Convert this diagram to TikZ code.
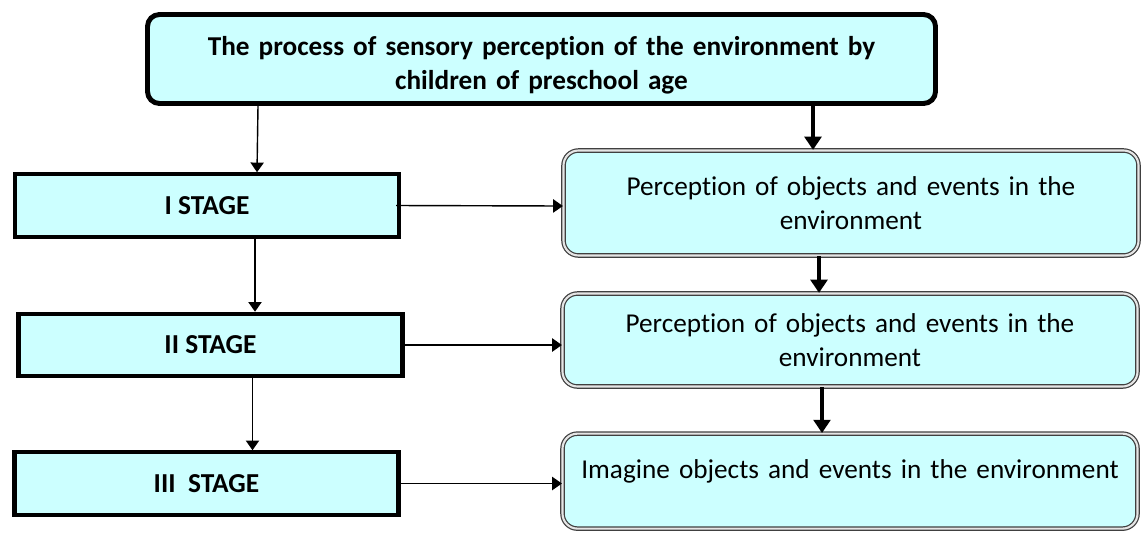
\documentclass[tikz,border=0pt]{standalone}
\usepackage{fontspec}
\setmainfont{Carlito}[Ligatures=NoCommon]
\usepackage{tikz}
\usetikzlibrary{arrows.meta}
\usepackage{xcolor}
\definecolor{boxcyan}{HTML}{CCFFFF}

\begin{document}
\begin{tikzpicture}[
  topbox/.style={draw=black, line width=2.8pt, rounded corners=0.24cm, fill=boxcyan,
    minimum width=15.76cm, minimum height=1.78cm, align=center, text width=15.3cm,
    font=\bfseries\fontsize{15.5}{19.3}\selectfont},
  stagebox/.style={draw=black, line width=2.3pt, fill=boxcyan, minimum width=7.68cm,
    minimum height=1.25cm, font=\bfseries\fontsize{15.6}{18}\selectfont},
  percbox/.style={draw=black!75, line width=0.7pt, double=gray!20, double distance=1.2pt,
    rounded corners=0.3cm, fill=boxcyan, minimum width=11.5cm, align=center,
    text width=11.2cm, font=\fontsize{15.5}{19.3}\selectfont},
  thin/.style={line width=0.8pt, -{Triangle[length=5.5pt,width=7.5pt]}},
  thick/.style={line width=2.3pt, -{Triangle[length=7.5pt,width=9.5pt]}}
]

  \useasboundingbox (0,0) rectangle (22.84,-10.7);

  % Top box
  \node[topbox] (proc) at (10.83,-1.18)
    {\rule{0pt}{0.64cm}The process of sensory perception of the environment by\\ children of preschool age};

  % Stages
  \node[stagebox] (s1) at (4.14,-4.11) {I STAGE};
  \node[stagebox] (s2) at (4.21,-6.90) {II STAGE};
  \node[stagebox] (s3) at (4.13,-9.67) {III\ \ STAGE};

  % Perception boxes
  \node[percbox, minimum height=2.1cm] (p1) at (17.02,-4.06)
    {Perception of objects and events in the\\ environment};
  \node[percbox, minimum height=1.86cm] (p2) at (17.0,-6.8)
    {Perception of objects and events in the\\ environment};
  \node[percbox, minimum height=0cm, inner sep=0pt, text height=0.9cm, text depth=1.0cm,
    anchor=north] (p3) at (17.0,-8.66)
    {Imagine objects and events in the environment};

  % Left column
  \draw[thin] ([xshift=1.02cm]proc.south west -| s1.north) -- ([xshift=1.0cm]s1.north);
  \draw[thin] ([xshift=0.96cm]s1.south) -- ([xshift=0.96cm]s1.south |- s2.north);
  \draw[thin] ([xshift=0.84cm]s2.south) -- ([xshift=0.84cm]s2.south |- s3.north);

  % Across
  \draw[thin] ([xshift=-0.1cm]s1.east) -- ([yshift=-0.06cm]p1.west);
  \draw[thin] (s2.east) -- (s2.east -| p2.west);
  \draw[thin] (s3.east) -- (s3.east -| p3.west);

  % Right column
  \draw[thick] ([xshift=-0.76cm]p1.north |- proc.south) -- ([xshift=-0.76cm]p1.north);
  \draw[thick] ([xshift=-0.64cm]p1.south) -- ([xshift=-0.64cm]p1.south |- p2.north);
  \draw[thick] ([xshift=-0.56cm]p2.south) -- ([xshift=-0.56cm]p3.north);

\end{tikzpicture}
\end{document}
